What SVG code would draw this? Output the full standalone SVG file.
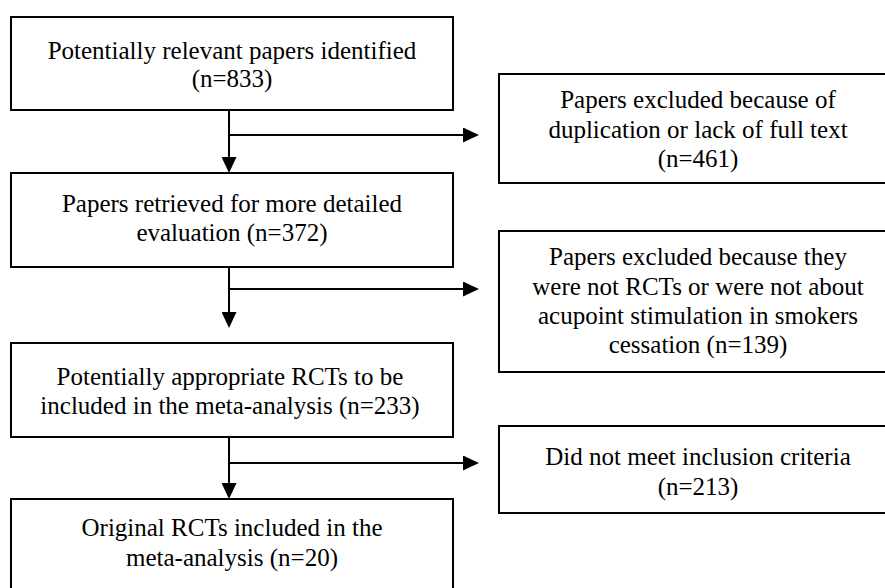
<svg xmlns="http://www.w3.org/2000/svg" width="885" height="588" viewBox="0 0 885 588">
<style>
.box{fill:#fff;stroke:#000;stroke-width:2}
.c{fill:none;stroke:#000;stroke-width:2}
</style>
<defs>
<marker id="ah" markerUnits="userSpaceOnUse" markerWidth="16" markerHeight="15" refX="0" refY="7.5" orient="auto" viewBox="0 0 16 15">
<path d="M0,0 L16,7.5 L0,15 z" fill="#000"/>
</marker>
</defs>
<rect width="885" height="588" fill="#fff"/>
<g id="connectors">
<path class="c" d="M229,110 V157" marker-end="url(#ah)"/>
<path class="c" d="M229,135 H463" marker-end="url(#ah)"/>
<path class="c" d="M229,267 V312" marker-end="url(#ah)"/>
<path class="c" d="M229,289 H463" marker-end="url(#ah)"/>
<path class="c" d="M229,437 V483" marker-end="url(#ah)"/>
<path class="c" d="M229,463 H463" marker-end="url(#ah)"/>
</g>
<g id="n1">
<rect class="box" x="11" y="17" width="442" height="93"/>
<text font-family="Liberation Serif" font-size="25" text-anchor="middle" x="232" y="59">Potentially relevant papers identified</text>
<text font-family="Liberation Serif" font-size="25" text-anchor="middle" x="232" y="87">(n=833)</text>
</g>
<g id="n2">
<rect class="box" x="11" y="173" width="442" height="94"/>
<text font-family="Liberation Serif" font-size="25" text-anchor="middle" x="232" y="212">Papers retrieved for more detailed</text>
<text font-family="Liberation Serif" font-size="25" text-anchor="middle" x="232" y="241">evaluation (n=372)</text>
</g>
<g id="n3">
<rect class="box" x="11" y="343" width="442" height="94"/>
<text font-family="Liberation Serif" font-size="25" text-anchor="middle" x="230" y="385">Potentially appropriate RCTs to be</text>
<text font-family="Liberation Serif" font-size="25" text-anchor="middle" x="230" y="414">included in the meta-analysis (n=233)</text>
</g>
<g id="n4">
<rect class="box" x="11" y="499" width="442" height="110"/>
<text font-family="Liberation Serif" font-size="25" text-anchor="middle" x="232" y="536">Original RCTs included in the</text>
<text font-family="Liberation Serif" font-size="25" text-anchor="middle" x="232" y="566">meta-analysis (n=20)</text>
</g>
<g id="e1">
<rect class="box" x="499" y="74" width="400" height="109"/>
<text font-family="Liberation Serif" font-size="25" text-anchor="middle" x="698" y="108">Papers excluded because of</text>
<text font-family="Liberation Serif" font-size="25" text-anchor="middle" x="698" y="138">duplication or lack of full text</text>
<text font-family="Liberation Serif" font-size="25" text-anchor="middle" x="698" y="167">(n=461)</text>
</g>
<g id="e2">
<rect class="box" x="499" y="231" width="400" height="141"/>
<text font-family="Liberation Serif" font-size="25" text-anchor="middle" x="698" y="265">Papers excluded because they</text>
<text font-family="Liberation Serif" font-size="25" text-anchor="middle" x="698" y="295">were not RCTs or were not about</text>
<text font-family="Liberation Serif" font-size="25" text-anchor="middle" x="698" y="324">acupoint stimulation in smokers</text>
<text font-family="Liberation Serif" font-size="25" text-anchor="middle" x="698" y="353">cessation (n=139)</text>
</g>
<g id="e3">
<rect class="box" x="499" y="426" width="400" height="87"/>
<text font-family="Liberation Serif" font-size="25" text-anchor="middle" x="698" y="465">Did not meet inclusion criteria</text>
<text font-family="Liberation Serif" font-size="25" text-anchor="middle" x="698" y="495">(n=213)</text>
</g>
</svg>
